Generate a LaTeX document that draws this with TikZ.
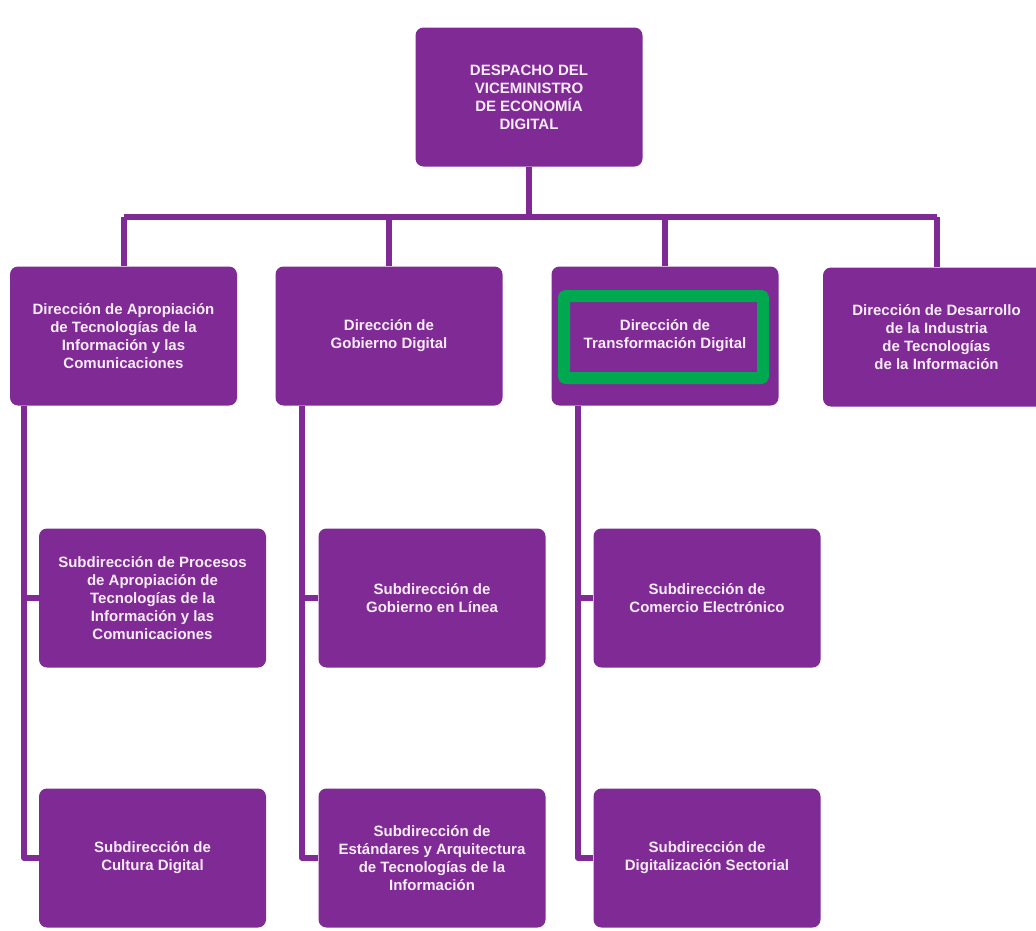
\documentclass[tikz,border=0pt]{standalone}
\usepackage{fontspec}
\setmainfont{Liberation Sans}
\usepackage{tikz}
\usetikzlibrary{positioning}
\usepackage{xcolor}
\definecolor{orgpurple}{RGB}{127,42,149}
\definecolor{orgtext}{RGB}{250,236,250}
\definecolor{markgreen}{RGB}{0,168,80}
\tikzset{purplebox/.style={rectangle, rounded corners=8pt, fill=orgpurple, text=orgtext, font=\fontsize{15}{18}\selectfont\bfseries, align=center, minimum width=227pt, minimum height=139pt, inner sep=0pt},purplelink/.style={draw=orgpurple, line width=6pt, line join=round}}
\tikzset{greenframe/.style={draw=markgreen, line width=12pt, rounded corners=2pt}}

\begin{document}
\begin{tikzpicture}[x=1pt, y=1pt]
        \useasboundingbox (0,0) rectangle (1036,-930);
        \clip (0,0) rectangle (1036,-930);
        % Boxes
        \node[purplebox] (despacho) at (529,-97) {DESPACHO DEL\\VICEMINISTRO\\DE ECONOMÍA\\DIGITAL};
        \node[purplebox] (apropiacion) at (123.5,-336) {Dirección de Apropiación\\de Tecnologías de la\\Información y las\\Comunicaciones};
        \node[purplebox] (gobierno) at (389,-336) {Dirección de\\Gobierno Digital};
        \node[purplebox] (transformacion) at (665,-336) {Dirección de\\Transformación Digital};
        \node[purplebox] (desarrollo) at (936.5,-337) {Dirección de Desarrollo\\de la Industria\\de Tecnologías\\de la Información};
        \node[purplebox] (procesos) at (152.5,-598) {Subdirección de Procesos\\de Apropiación de\\Tecnologías de la\\Información y las\\Comunicaciones};
        \node[purplebox] (cultura) at (152.5,-858) {Subdirección de\\Cultura Digital};
        \node[purplebox] (enlinea) at (432,-598) {Subdirección de\\Gobierno en Línea};
        \node[purplebox] (estandares) at (432,-858) {Subdirección de\\Estándares y Arquitectura\\de Tecnologías de la\\Información};
        \node[purplebox] (comercio) at (707,-598) {Subdirección de\\Comercio Electrónico};
        \node[purplebox] (sectorial) at (707,-858) {Subdirección de\\Digitalización Sectorial};
        % Highlight
        \draw[greenframe] ([shift={(-101,40)}]transformacion.center) rectangle ([shift={(98,-42)}]transformacion.center);
        % Top level links
        \coordinate (barleft) at (apropiacion.north |- 0,-217);
        \coordinate (barright) at (desarrollo.north |- 0,-217);
        \draw[purplelink] (barleft) -- (barright);
        \draw[purplelink] (despacho.south) -- (despacho.south |- barleft);
        \foreach \dir in {apropiacion, gobierno, transformacion, desarrollo} {
            \draw[purplelink] (\dir.north |- barleft) -- (\dir.north);
        }
        % Sub level links
        \draw[purplelink] ([xshift=14.5pt]apropiacion.south west) |- (cultura.west);
        \draw[purplelink] ([xshift=14.5pt]apropiacion.south west |- procesos.west) -- (procesos.west);
        \draw[purplelink] ([xshift=27pt]gobierno.south west) |- (estandares.west);
        \draw[purplelink] ([xshift=27pt]gobierno.south west |- enlinea.west) -- (enlinea.west);
        \draw[purplelink] ([xshift=27pt]transformacion.south west) |- (sectorial.west);
        \draw[purplelink] ([xshift=27pt]transformacion.south west |- comercio.west) -- (comercio.west);
    \end{tikzpicture}
\end{document}
